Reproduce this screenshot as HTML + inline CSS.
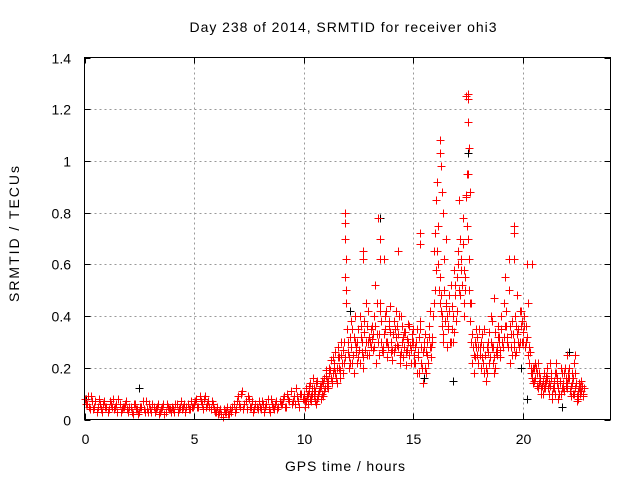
<!DOCTYPE html>
<html><head><meta charset="utf-8"><style>
body{margin:0;background:#fff;}
svg{display:block;font-family:"Liberation Sans",sans-serif;}
</style></head><body>
<svg id="chart" width="640" height="480" viewBox="0 0 640 480">
<text x="343" y="32" font-size="14" text-anchor="middle" textLength="307" lengthAdjust="spacing" fill="#000">Day 238 of 2014, SRMTID for receiver ohi3</text>
<g id="grid"></g>
<g id="ticks"></g>
<g id="marks"></g>
<rect x="84.5" y="57.5" width="526" height="362" fill="none" stroke="#000" stroke-width="1"/>
<text x="345" y="471" font-size="14" text-anchor="middle" textLength="120" lengthAdjust="spacing">GPS time / hours</text>
<text transform="translate(19,234) rotate(-90)" font-size="14" text-anchor="middle" textLength="136" lengthAdjust="spacing">SRMTID / TECUs</text>
</svg>
<script>
const xTicks=[0,5,10,15,20];
const yTicks=[0,0.2,0.4,0.6,0.8,1,1.2,1.4];
const yTickLabels=["0","0.2","0.4","0.6","0.8","1","1.2","1.4"];
const baseA=[.08,.06,.05,.09,.04,.07,.05,.06,.03,.07,.05,.04,.06,.08,.05,.03,.06,.04,.05,.07,.03,.05,.02,.06,.04,.03,.05,.04,.07,.03,.04,.06,.03,.05,.02,.04,.06,.03,.05,.04,.05,.03,.06,.04,.07,.05,.03,.06,.04,.05,.06,.08,.05,.07,.04,.09,.06,.05,.07,.04,.03,.02,.04,.01,.03,.05,.02,.03,.06,.04,.09,.05,.11,.06,.04,.08,.05,.03,.06,.04,.05,.07,.03,.06,.04,.08,.05,.06,.04,.07,.06,.09,.05,.08,.11,.07,.06,.09,.05,.10];
const baseB=[.06,.09,.04,.07,.05,.03,.08,.04,.06,.05,.03,.07,.05,.04,.06,.08,.03,.05,.06,.04,.05,.03,.06,.04,.02,.05,.07,.03,.04,.06,.03,.05,.04,.06,.03,.05,.02,.06,.04,.03,.04,.06,.03,.05,.04,.06,.05,.04,.07,.05,.07,.05,.09,.06,.08,.05,.07,.04,.06,.03,.05,.03,.02,.04,.03,.02,.04,.05,.03,.07,.06,.10,.04,.07,.09,.05,.07,.04,.05,.07,.04,.06,.05,.08,.03,.06,.04,.07,.05,.06,.08,.05,.10,.07,.06,.09,.12,.07,.10,.08];
const stormA=[.08,.12,.06,.14,.10,.07,.15,.11,.13,.09,.17,.12,.19,.15,.22,.14,.20,.25,.18,.55,.30,.22,.35,.18,.28,.24,.32,.20,.27,.36,.25,.31,.40,.22,.30,.45,.28,.35,.24,.38,.30,.26,.42,.33,.22,.36,.28,.31,.25,.27,.30,.22,.26,.35,.20,.28,.18,.32,.24,.40,.72,.92,.55,.40,.62,.45,.35,.52,.30,.48,.55,.85,.62,.45,1.25,.70,.38,.22,.30,.25,.35,.20,.28,.15,.30,.24,.38,.18,.25,.32,.40,.28,.55,.32,.22,.38,.30,.26,.35,.42,.34,.28,.60,.22,.18,.15,.20,.12,.16,.10,.14,.20,.10,.16,.12,.22,.08,.15,.18,.11,.14,.20,.09,.16,.12,.08,.10,.13];
const stormB=[.05,.09,.11,.07,.12,.06,.09,.13,.10,.16,.13,.20,.16,.24,.18,.28,.16,.22,.30,.45,.20,.38,.25,.30,.22,.40,.26,.34,.45,.30,.35,.27,.52,.33,.25,.30,.62,.42,.28,.34,.23,.35,.29,.40,.26,.32,.21,.37,.29,.33,.25,.35,.18,.28,.14,.33,.25,.42,.30,.65,.85,.60,.48,.33,.38,.28,.42,.35,.58,.38,.65,.48,.78,.55,.95,.50,.30,.18,.35,.28,.25,.33,.18,.28,.22,.40,.28,.20,.36,.27,.30,.45,.36,.62,.28,.33,.25,.48,.30,.38,.40,.30,.25,.20,.14,.22,.18,.14,.10,.18,.17,.12,.22,.08,.18,.14,.10,.20,.12,.16,.18,.11,.14,.22,.07,.12,.15,.10];
const stormC=[.10,.07,.13,.09,.16,.11,.08,.12,.15,.11,.19,.15,.23,.18,.26,.20,.24,.30,.22,.50,.26,.32,.22,.40,.30,.27,.36,.24,.30,.42,.30,.36,.28,.45,.33,.38,.26,.40,.30,.44,.27,.38,.32,.28,.40,.24,.34,.27,.36,.30,.22,.30,.24,.38,.26,.20,.30,.36,.28,.45,.58,.75,.45,.36,.50,.40,.48,.30,.40,.52,.60,.70,.52,.40,.86,.62,.45,.28,.24,.32,.28,.24,.35,.20,.26,.30,.22,.34,.28,.30,.35,.32,.42,.28,.36,.25,.40,.33,.28,.36,.30,.36,.45,.26,.16,.20,.13,.18,.12,.15,.12,.16,.13,.10,.15,.18,.12,.10,.14,.20,.12,.16,.18,.10,.14,.11,.13,.09];
const stormD=[.07,.10,.08,.12,.09,.14,.10,.08,.14,.12,.15,.18,.14,.20,.16,.24,.19,.27,.24,.35,.24,.28,.32,.26,.35,.22,.30,.38,.25,.32,.28,.33,.36,.30,.42,.27,.33,.30,.36,.26,.33,.28,.36,.25,.30,.34,.26,.30,.22,.35,.28,.18,.32,.22,.30,.26,.22,.28,.32,.50,.65,.50,.42,.30,.44,.36,.30,.44,.34,.42,.50,.58,.68,.50,.75,.45,.33,.25,.28,.22,.30,.22,.25,.18,.34,.28,.24,.26,.32,.24,.28,.36,.30,.50,.33,.28,.36,.30,.42,.30,.36,.32,.28,.18,.20,.16,.22,.15,.13,.12,.15,.14,.18,.12,.10,.16,.14,.12,.18,.13,.16,.13,.10,.18,.09,.14,.11,.12];
const peakT=[11.9,11.9,11.9,11.95,12.7,12.7,13.4,13.5,13.5,15.3,15.3,16.2,16.2,16.25,16.3,16.35,17.5,17.5,17.5,17.55,17.5,17.6,17.4,19.6,19.6,19.6,20.4,14.3,16.5,17.3,18.7,22.0,22.4];
const peakV=[.80,.76,.70,.62,.65,.62,.78,.70,.62,.72,.68,1.08,1.03,.98,.88,.80,1.26,1.24,1.15,1.05,.95,.88,.87,.75,.72,.62,.60,.65,.70,.58,.47,.25,.25];
const blackT=[13.5,2.5,17.5,16.2,20.2,21.8,12.1,15.5,16.8,0.05,19.9,22.1];
const blackV=[.78,.12,1.03,.55,.08,.05,.42,.16,.15,.08,.2,.26];

const X0=84.5,X1=610.5,Y0=419.5,Y1=57.5;
const xs=t=>X0+(t/24)*(X1-X0);
const ys=v=>Y0-(v/1.4)*(Y0-Y1);
const NS="http://www.w3.org/2000/svg";
const grid=document.getElementById('grid'),ticks=document.getElementById('ticks'),marks=document.getElementById('marks');
function mk(tag,attrs,parent){const e=document.createElementNS(NS,tag);for(const k in attrs)e.setAttribute(k,attrs[k]);parent.appendChild(e);return e;}
xTicks.forEach(t=>{const x=Math.round(xs(t))+0.5;
 if(t>0){const g=mk('line',{x1:x,x2:x,y1:Y1,y2:Y0,stroke:'#999','stroke-dasharray':'2,3'},grid);
 
 }
 mk('line',{x1:x,x2:x,y1:Y0,y2:Y0-6,stroke:'#000'},ticks);mk('line',{x1:x,x2:x,y1:Y1,y2:Y1+6,stroke:'#000'},ticks);
 const l=mk('text',{x:x,y:444,'font-size':14,'text-anchor':'middle'},ticks);l.textContent=t;
 
 });
yTicks.forEach((v,i)=>{const y=Math.round(ys(v))+0.5;
 if(i>0&&i<yTicks.length-1){const g=mk('line',{x1:X0,x2:X1,y1:y,y2:y,stroke:'#999','stroke-dasharray':'2,3'},grid);
 
 }
 mk('line',{x1:X0,x2:X0+6,y1:y,y2:y,stroke:'#000'},ticks);mk('line',{x1:X1,x2:X1-6,y1:y,y2:y,stroke:'#000'},ticks);
 const l=mk('text',{x:71,y:y+5,'font-size':14,'text-anchor':'end'},ticks);l.textContent=yTickLabels[i];
 
 });
function plus(ts,vs,color,name){let d='';for(let i=0;i<vs.length;i++){const x=Math.round(xs(ts[i]))+0.5,y=Math.round(ys(vs[i]))+0.5;d+=`M${x-4} ${y}h8M${x} ${y-4}v8`;}
 const p=mk('path',{d:d,stroke:color,'stroke-width':1,fill:'none'},marks);
 
 }
const bT=baseA.map((_,i)=>i*0.1),bT2=baseB.map((_,i)=>i*0.1+0.05);
const sT=stormA.map((_,i)=>10+i*0.1),sT2=stormB.map((_,i)=>10.05+i*0.1);
const sT3=stormC.map((_,i)=>10.025+i*0.1),sT4=stormD.map((_,i)=>10.075+i*0.1);
plus(blackT,blackV,'#000','black-series');
plus(bT,baseA,'#f00','red-series-base-a');
plus(bT2,baseB,'#f00','red-series-base-b');
plus(sT,stormA,'#f00','red-series-storm-a');
plus(sT2,stormB,'#f00','red-series-storm-b');
plus(sT3,stormC,'#f00','red-series-storm-c');
plus(sT4,stormD,'#f00','red-series-storm-d');
plus(peakT,peakV,'#f00','red-series-peaks');
</script>
</body></html>
